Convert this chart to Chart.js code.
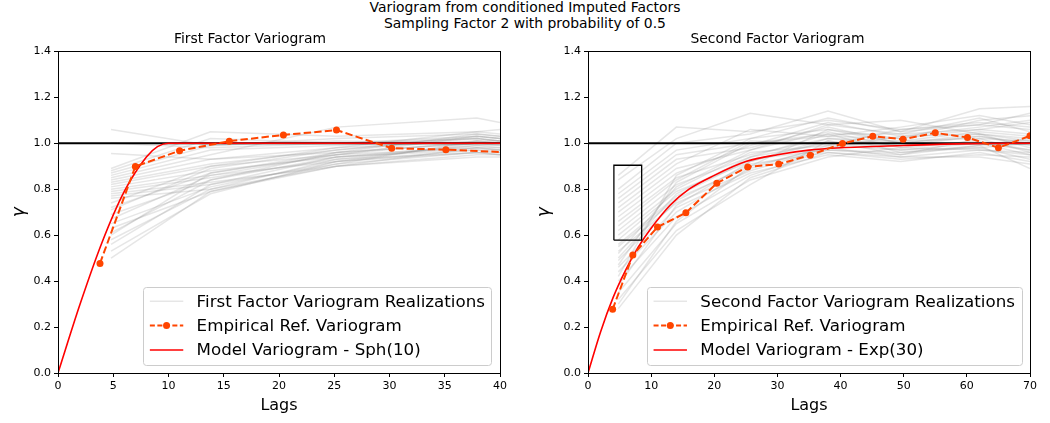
<!DOCTYPE html>
<html>
<head>
<meta charset="utf-8">
<script src="https://cdn.jsdelivr.net/npm/chart.js@4.4.0/dist/chart.umd.min.js"></script>
<style>
body{margin:0;background:#fff;width:1050px;height:423px;position:relative;overflow:hidden;font-family:"DejaVu Sans",sans-serif;}
#suptitle{position:absolute;left:0;top:0;width:1050px;text-align:center;font-size:13.9px;line-height:15.5px;color:#000;}
canvas{position:absolute;top:0;}
#left{left:0}
#right{left:525px}
</style>
</head>
<body>
<div id="suptitle">Variogram from conditioned Imputed Factors<br>Sampling Factor 2 with probability of 0.5</div>
<canvas id="left" width="525" height="423"></canvas>
<canvas id="right" width="525" height="423"></canvas>
<script>

/* DATA - first factor */

const leftLags=[3.8,7.0,11.0,15.5,20.4,25.2,30.2,35.1,40.4];
const leftEmp=[0.477,0.899,0.967,1.009,1.036,1.057,0.978,0.972,0.961];

const leftModelLags=[0,2,4,6,8,9,10,40];
const leftModel=[0,0.30,0.57,0.79,0.94,0.985,1.0,1.0];

const leftRealLags=[4.8,13.8,25.2,37.9,40];
const leftReal=[
[1.06,0.99,1.02,1.04,1.03],
[1.00,0.98,1.00,1.02,1.01],
[0.955,0.93,0.98,1.01,1.00],
[0.89,1.05,1.03,1.05,1.04],
[0.88,1.02,1.00,1.03,1.02],
[0.87,0.99,1.01,1.00,1.00],
[0.86,0.97,0.99,1.02,1.01],
[0.85,0.95,1.07,1.11,1.09],
[0.84,0.93,0.96,1.00,0.99],
[0.83,0.91,0.97,1.03,1.02],
[0.82,0.90,0.95,0.98,0.98],
[0.81,0.88,0.94,0.97,0.97],
[0.80,0.86,0.92,1.00,1.00],
[0.79,0.85,0.93,0.96,0.96],
[0.78,0.83,0.90,0.95,0.95],
[0.77,0.82,0.91,1.01,1.00],
[0.76,0.80,0.90,0.98,0.97],
[0.74,0.90,0.98,1.05,1.06],
[0.72,0.87,0.96,1.04,1.03],
[0.71,0.89,0.97,1.02,1.01],
[0.69,0.84,0.94,0.99,0.99],
[0.67,0.86,0.95,1.03,1.02],
[0.65,0.81,0.92,0.97,0.96],
[0.63,0.79,0.91,0.96,0.95],
[0.61,0.84,0.96,1.00,1.00],
[0.60,0.87,0.95,1.01,1.01],
[0.58,0.80,0.93,0.99,0.98],
[0.56,0.82,0.94,0.98,0.97],
[0.53,0.78,0.92,0.96,0.95],
[0.50,0.79,0.90,0.94,0.94]
];

/* DATA - second factor */

const rightLags=[3.9,7.1,11.0,15.5,20.4,25.3,30.2,35.2,40.3,45.1,49.9,55.0,60.1,65.0,70.0];
const rightEmp=[0.277,0.513,0.635,0.697,0.826,0.897,0.909,0.948,0.999,1.030,1.017,1.045,1.025,0.980,1.032];

const rightModelLags=[0,2,4,6,8,10,13,16,20,25,30,35,40,50,60,70];
const rightModel=[0,0.18,0.33,0.45,0.55,0.63,0.73,0.80,0.86,0.92,0.95,0.97,0.98,0.99,0.998,1.0];

const rightRealLags=[4.8,14,25.7,38,49.5,62,70];
const rightReal=[
[0.86,1.07,1.05,1.10,1.06,1.08,1.06],
[0.84,1.02,1.13,1.08,1.10,1.04,1.02],
[0.80,1.00,1.04,1.14,1.05,1.15,1.16],
[0.78,0.97,1.02,1.06,1.02,1.10,1.12],
[0.76,0.95,1.00,1.04,1.04,1.06,1.04],
[0.74,0.93,0.98,1.07,1.00,1.03,1.00],
[0.72,0.91,1.06,1.03,1.07,1.12,1.08],
[0.70,0.89,0.97,1.05,0.98,1.01,0.97],
[0.68,0.87,0.99,1.09,1.03,1.07,1.10],
[0.66,0.85,0.95,1.02,0.99,1.00,0.95],
[0.64,0.84,1.01,1.00,1.01,1.05,1.03],
[0.62,0.82,0.94,1.04,0.96,0.99,0.89],
[0.60,0.80,0.96,0.99,1.06,1.09,1.07],
[0.58,0.79,0.92,1.01,0.97,0.98,0.93],
[0.56,0.77,0.93,0.97,0.95,1.02,1.01],
[0.55,0.76,0.90,1.06,1.00,1.04,0.98],
[0.53,0.74,0.88,0.98,0.94,0.97,0.96],
[0.52,0.81,0.97,1.08,1.04,1.11,1.05],
[0.50,0.78,0.94,1.00,0.99,1.03,0.99],
[0.49,0.75,0.91,0.96,0.93,0.95,0.94],
[0.47,0.83,1.00,1.03,1.02,1.06,1.09],
[0.46,0.72,0.87,0.95,0.92,0.96,0.92],
[0.44,0.70,0.89,0.99,0.97,1.00,0.97],
[0.42,0.86,1.02,1.11,1.05,1.08,1.13],
[0.40,0.68,0.86,0.97,0.96,0.98,1.00],
[0.38,0.73,0.92,1.02,1.01,1.02,0.96],
[0.35,0.65,0.84,0.94,0.98,0.97,0.95],
[0.32,0.62,0.82,1.01,0.95,0.99,1.02],
[0.30,0.66,0.90,0.98,1.03,1.04,1.01],
[0.28,0.60,0.85,0.96,0.94,0.94,0.91]
];

/* highlight box on second plot */
const boxLags=[4.1,8.5];
const boxGamma=[0.578,0.904];

const sill=1.0;


/* STYLE */

const FONT='"DejaVu Sans", sans-serif';
const GREY='rgba(128,128,128,0.2)';
const ORANGE='#ff4500';
const RED='#ff0000';

Chart.defaults.font.family=FONT;
Chart.defaults.color='#000';

const pts=(xs,ys)=>xs.map((x,i)=>({x:x,y:ys[i]}));


/* frame around plot area (matplotlib spines) */

const framePlugin={
id:"frame",
afterDatasetsDraw(chart){
const a=chart.chartArea, ctx=chart.ctx;
ctx.save();
ctx.strokeStyle="#000";
ctx.lineWidth=1;
ctx.strokeRect(Math.round(a.left)+0.5,Math.round(a.top)+0.5,Math.round(a.right-a.left),Math.round(a.bottom-a.top));
ctx.restore();
}
};


/* legend box in lower right corner */

const legendPlugin={
id:"boxLegend",
afterDraw(chart,args,opts){
const ctx=chart.ctx, a=chart.chartArea;
const fs=opts.fontSize;
ctx.save();
ctx.font=fs+"px "+FONT;
const pad=0.4*fs, handle=2*fs, gap=0.8*fs, rowH=16, sp=0.5*fs;
const textW=Math.max(...opts.items.map(it=>ctx.measureText(it.text).width));
const w=pad*2+handle+gap+textW;
const h=pad*2+rowH*opts.items.length+sp*(opts.items.length-1);
const x=a.right-0.5*fs-w, y=a.bottom-0.5*fs-h;

ctx.beginPath();
ctx.roundRect(Math.round(x)+0.5,Math.round(y)+0.5,Math.round(w),Math.round(h),3);
ctx.fillStyle="rgba(255,255,255,0.8)";
ctx.fill();
ctx.strokeStyle="#cccccc";
ctx.lineWidth=1;
ctx.stroke();

opts.items.forEach((it,i)=>{
const cy=y+pad+rowH/2+i*(rowH+sp);
const hx=x+pad;
ctx.beginPath();
ctx.setLineDash(it.dash||[]);
ctx.strokeStyle=it.color;
ctx.lineWidth=it.width;
ctx.moveTo(hx,cy);
ctx.lineTo(hx+handle,cy);
ctx.stroke();
ctx.setLineDash([]);
if(it.marker){
ctx.beginPath();
ctx.arc(hx+handle/2,cy,3.5,0,Math.PI*2);
ctx.fillStyle=it.color;
ctx.fill();
}
ctx.fillStyle="#000";
ctx.textBaseline="middle";
ctx.textAlign="left";
ctx.fillText(it.text,hx+handle+gap,cy+1);
});
ctx.restore();
}
};


/* CHART BUILDER */

function makeChart(id,cfg){

const datasets=[];

cfg.real.forEach(r=>{
datasets.push({
data:pts(cfg.realLags,r),
borderColor:GREY,
borderWidth:1.5,
pointRadius:0,
order:4
});
});

datasets.push({
data:[{x:0,y:sill},{x:cfg.xMax,y:sill}],
borderColor:"#000",
borderWidth:2,
pointRadius:0,
order:3
});

datasets.push({
data:pts(cfg.modelLags,cfg.model),
borderColor:RED,
borderWidth:1.6,
pointRadius:0,
cubicInterpolationMode:"monotone",
order:2
});

datasets.push({
data:pts(cfg.lags,cfg.emp),
borderColor:ORANGE,
backgroundColor:ORANGE,
borderWidth:2,
borderDash:[7.4,3.2],
pointRadius:3.5,
pointBorderWidth:0,
pointBackgroundColor:ORANGE,
order:1
});

if(cfg.box){
datasets.push({
data:[
{x:cfg.box.x[0],y:cfg.box.y[0]},
{x:cfg.box.x[1],y:cfg.box.y[0]},
{x:cfg.box.x[1],y:cfg.box.y[1]},
{x:cfg.box.x[0],y:cfg.box.y[1]},
{x:cfg.box.x[0],y:cfg.box.y[0]}
],
borderColor:"#000",
borderWidth:1.3,
pointRadius:0,
order:0
});
}

return new Chart(document.getElementById(id),{
type:"line",
data:{datasets:datasets},
options:{
responsive:false,
animation:false,
devicePixelRatio:1,
layout:{padding:{left:0,right:cfg.padRight,top:31,bottom:0}},
plugins:{
legend:{display:false},
tooltip:{enabled:false},
title:{
display:true,
text:cfg.title,
font:{size:13.9,weight:"normal",family:FONT,lineHeight:1.1},
color:"#000",
padding:{top:1,bottom:4}
},
boxLegend:{fontSize:16.7,items:[
{text:cfg.realLabel,color:GREY,width:1.5},
{text:"Empirical Ref. Variogram",color:ORANGE,width:2,dash:[5,2.5],marker:true},
{text:cfg.modelLabel,color:RED,width:1.6}
]}
},
scales:{
x:{
type:"linear",
min:0,
max:cfg.xMax,
afterFit:s=>{s.height=50;},
ticks:{stepSize:cfg.xStep,font:{size:11},color:"#000",padding:3,maxRotation:0},
grid:{display:true,drawOnChartArea:false,drawTicks:true,tickLength:4,color:"#000"},
border:{display:true,color:"#000"},
title:{display:true,text:"Lags",font:{size:16},color:"#000",padding:{top:0,bottom:8}}
},
y:{
min:0,
max:1.4,
afterFit:s=>{s.width=cfg.yWidth;},
ticks:{stepSize:0.2,font:{size:11},color:"#000",padding:3,callback:v=>v.toFixed(1)},
grid:{display:true,drawOnChartArea:false,drawTicks:true,tickLength:4,color:"#000"},
border:{display:true,color:"#000"},
title:{display:true,text:"γ",font:{size:17,style:"italic"},color:"#000",padding:{top:cfg.yTitlePad,bottom:0}}
}
}
},
plugins:[framePlugin,legendPlugin]
});

}


makeChart("left",{
title:"First Factor Variogram",
lags:leftLags, emp:leftEmp,
modelLags:leftModelLags, model:leftModel,
realLags:leftRealLags, real:leftReal,
xMax:40, xStep:5,
yWidth:58, padRight:25, yTitlePad:9,
realLabel:"First Factor Variogram Realizations",
modelLabel:"Model Variogram - Sph(10)"
});

makeChart("right",{
title:"Second Factor Variogram",
lags:rightLags, emp:rightEmp,
modelLags:rightModelLags, model:rightModel,
realLags:rightRealLags, real:rightReal,
xMax:70, xStep:10,
yWidth:63, padRight:20, yTitlePad:9,
box:{x:boxLags,y:boxGamma},
realLabel:"Second Factor Variogram Realizations",
modelLabel:"Model Variogram - Exp(30)"
});

</script>
</body>
</html>
